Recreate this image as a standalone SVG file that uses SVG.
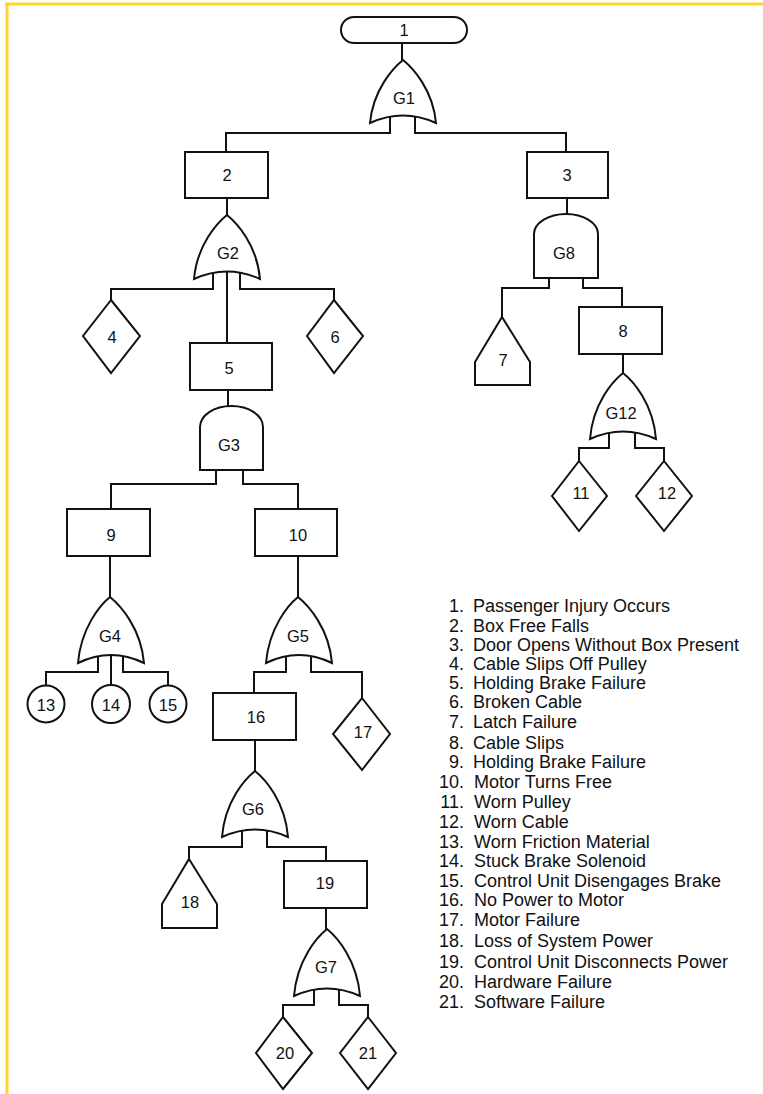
<svg xmlns="http://www.w3.org/2000/svg" width="763" height="1094" viewBox="0 0 763 1094">
<style>
.s{fill:#fff;stroke:#111;stroke-width:2;stroke-linejoin:miter}
.c{fill:none;stroke:#111;stroke-width:2}
.t{font-family:"Liberation Sans",Arial,sans-serif;font-size:16.5px;fill:#111;text-anchor:middle}
.l{font-family:"Liberation Sans",Arial,sans-serif;font-size:18px;fill:#111}
.n{text-anchor:end}
.b{fill:none;stroke:#FFD630;stroke-width:3}
</style>
<rect x="0" y="0" width="763" height="1094" fill="#fff"/>
<g id="border">
<line class="b" x1="5" y1="4" x2="763" y2="4"/>
<line class="b" x1="7" y1="3" x2="7" y2="1094"/>
</g>
<g id="connectors">
<polyline class="c" points="402,43 402,60"/>
<polyline class="c" points="390,115 390,133 226,133 226,152"/>
<polyline class="c" points="415,115 415,133 566,133 566,152"/>
<polyline class="c" points="227,198 227,215"/>
<polyline class="c" points="567,198 567,214"/>
<polyline class="c" points="213,272 213,289 111,289 111,300"/>
<polyline class="c" points="227,272 227,343"/>
<polyline class="c" points="240,272 240,289 334,289 334,300"/>
<polyline class="c" points="228,390 228,406"/>
<polyline class="c" points="216,470 216,484 111,484 111,509"/>
<polyline class="c" points="243,470 243,484 298,484 298,509"/>
<polyline class="c" points="549,278 549,288 502,288 502,317"/>
<polyline class="c" points="583,278 583,288 622,288 622,307"/>
<polyline class="c" points="623,354 623,373"/>
<polyline class="c" points="609,432 609,448 579,448 579,461"/>
<polyline class="c" points="635,432 635,448 664,448 664,461"/>
<polyline class="c" points="110,556 110,597"/>
<polyline class="c" points="298,556 298,597"/>
<polyline class="c" points="98,656 98,672 46,672 46,686"/>
<polyline class="c" points="111,656 111,686"/>
<polyline class="c" points="123,656 123,672 168,672 168,686"/>
<polyline class="c" points="286,656 286,672 254,672 254,693"/>
<polyline class="c" points="311,656 311,672 362,672 362,698"/>
<polyline class="c" points="255,740 255,771"/>
<polyline class="c" points="242,830 242,847 189,847 189,859"/>
<polyline class="c" points="267,830 267,847 326,847 326,861"/>
<polyline class="c" points="326,908 326,929"/>
<polyline class="c" points="314,989 314,1005 283,1005 283,1017"/>
<polyline class="c" points="339,989 339,1005 368,1005 368,1017"/>
</g>
<g id="n1"><rect class="s" x="341" y="17" width="126" height="26" rx="13"/><text class="t" x="404" y="36">1</text></g>
<g id="G1"><path class="s" d="M403,60 C413,68 433,90 436,123 Q403,108 370,123 C373,90 393,68 403,60 Z"/><text class="t" x="404" y="104">G1</text></g>
<g id="n2"><rect class="s" x="185" y="152" width="83" height="46"/><text class="t" x="227" y="181">2</text></g>
<g id="n3"><rect class="s" x="527" y="152" width="81" height="46"/><text class="t" x="567" y="181">3</text></g>
<g id="G2"><path class="s" d="M227,215 C237,223 257,245 260,279 Q227,264 194,279 C197,245 217,223 227,215 Z"/><text class="t" x="228" y="259">G2</text></g>
<g id="n4"><path class="s" d="M111,300 L140,336 L111,373 L83,336 Z"/><text class="t" x="112" y="343">4</text></g>
<g id="n6"><path class="s" d="M334,300 L363,336 L334,373 L307,336 Z"/><text class="t" x="335" y="343">6</text></g>
<g id="n5"><rect class="s" x="190" y="343" width="82" height="47"/><text class="t" x="229" y="374">5</text></g>
<g id="G3"><path class="s" d="M200,470 V427 A31.5 21 0 0 1 263,427 V470 Z"/><text class="t" x="229" y="451">G3</text></g>
<g id="G8"><path class="s" d="M534,278 V234 A32 20 0 0 1 598,234 V278 Z"/><text class="t" x="564" y="259">G8</text></g>
<g id="n7"><path class="s" d="M502,317 L530,362 L530,385 L475,385 L475,362 Z"/><text class="t" x="503" y="366">7</text></g>
<g id="n8"><rect class="s" x="579" y="307" width="83" height="47"/><text class="t" x="623" y="337">8</text></g>
<g id="G12"><path class="s" d="M623,373 C633,381 653,403 656,439 Q623,424 590,439 C593,403 613,381 623,373 Z"/><text class="t" x="621" y="419">G12</text></g>
<g id="n11"><path class="s" d="M579,461 L607,496 L579,531 L552,496 Z"/><text class="t" x="581" y="499">11</text></g>
<g id="n12"><path class="s" d="M664,461 L692,496 L664,531 L636,496 Z"/><text class="t" x="667" y="499">12</text></g>
<g id="n9"><rect class="s" x="67" y="509" width="83" height="47"/><text class="t" x="111" y="541">9</text></g>
<g id="n10"><rect class="s" x="255" y="509" width="82" height="47"/><text class="t" x="298" y="541">10</text></g>
<g id="G4"><path class="s" d="M110,597 C120,605 141,628 144,663 Q111,647 78,663 C81,628 100,605 110,597 Z"/><text class="t" x="110" y="642">G4</text></g>
<g id="G5"><path class="s" d="M298,597 C308,605 329,628 332,663 Q299,647 266,663 C269,628 288,605 298,597 Z"/><text class="t" x="298" y="642">G5</text></g>
<g id="n13"><circle class="s" cx="46" cy="704" r="18.5"/><text class="t" x="46" y="711">13</text></g>
<g id="n14"><circle class="s" cx="111" cy="704" r="19"/><text class="t" x="111" y="711">14</text></g>
<g id="n15"><circle class="s" cx="168" cy="704" r="18.5"/><text class="t" x="168" y="711">15</text></g>
<g id="n16"><rect class="s" x="213" y="693" width="83" height="47"/><text class="t" x="256" y="723">16</text></g>
<g id="n17"><path class="s" d="M362,698 L390,734 L362,770 L333,734 Z"/><text class="t" x="363" y="738">17</text></g>
<g id="G6"><path class="s" d="M255,771 C265,779 285,801 288,837 Q255,822 222,837 C225,801 245,779 255,771 Z"/><text class="t" x="253" y="815">G6</text></g>
<g id="n18"><path class="s" d="M189,859 L217,904 L217,928 L162,928 L162,904 Z"/><text class="t" x="190" y="908">18</text></g>
<g id="n19"><rect class="s" x="284" y="861" width="83" height="47"/><text class="t" x="325" y="889">19</text></g>
<g id="G7"><path class="s" d="M327,929 C337,937 357,960 360,996 Q327,981 294,996 C297,960 317,937 327,929 Z"/><text class="t" x="326" y="973">G7</text></g>
<g id="n20"><path class="s" d="M283,1017 L312,1053 L283,1089 L256,1053 Z"/><text class="t" x="285" y="1059">20</text></g>
<g id="n21"><path class="s" d="M368,1017 L396,1053 L368,1089 L340,1053 Z"/><text class="t" x="368" y="1059">21</text></g>
<g id="legend">
<text class="l n" x="464" y="612">1.</text><text class="l" x="473" y="612">Passenger Injury Occurs</text>
<text class="l n" x="464" y="631.5">2.</text><text class="l" x="473" y="631.5">Box Free Falls</text>
<text class="l n" x="464" y="651">3.</text><text class="l" x="473" y="651">Door Opens Without Box Present</text>
<text class="l n" x="464" y="670">4.</text><text class="l" x="473" y="670">Cable Slips Off Pulley</text>
<text class="l n" x="464" y="689">5.</text><text class="l" x="473" y="689">Holding Brake Failure</text>
<text class="l n" x="464" y="708">6.</text><text class="l" x="473" y="708">Broken Cable</text>
<text class="l n" x="464" y="727.5">7.</text><text class="l" x="473" y="727.5">Latch Failure</text>
<text class="l n" x="464" y="749">8.</text><text class="l" x="473" y="749">Cable Slips</text>
<text class="l n" x="464" y="768">9.</text><text class="l" x="473" y="768">Holding Brake Failure</text>
<text class="l n" x="464" y="788">10.</text><text class="l" x="474" y="788">Motor Turns Free</text>
<text class="l n" x="464" y="808">11.</text><text class="l" x="474" y="808">Worn Pulley</text>
<text class="l n" x="464" y="827.5">12.</text><text class="l" x="474" y="827.5">Worn Cable</text>
<text class="l n" x="464" y="847.5">13.</text><text class="l" x="474" y="847.5">Worn Friction Material</text>
<text class="l n" x="464" y="867">14.</text><text class="l" x="474" y="867">Stuck Brake Solenoid</text>
<text class="l n" x="464" y="887">15.</text><text class="l" x="474" y="887">Control Unit Disengages Brake</text>
<text class="l n" x="464" y="906">16.</text><text class="l" x="474" y="906">No Power to Motor</text>
<text class="l n" x="464" y="926">17.</text><text class="l" x="474" y="926">Motor Failure</text>
<text class="l n" x="464" y="947">18.</text><text class="l" x="474" y="947">Loss of System Power</text>
<text class="l n" x="464" y="967.5">19.</text><text class="l" x="474" y="967.5">Control Unit Disconnects Power</text>
<text class="l n" x="464" y="987.5">20.</text><text class="l" x="474" y="987.5">Hardware Failure</text>
<text class="l n" x="464" y="1007.5">21.</text><text class="l" x="474" y="1007.5">Software Failure</text>
</g>
</svg>
